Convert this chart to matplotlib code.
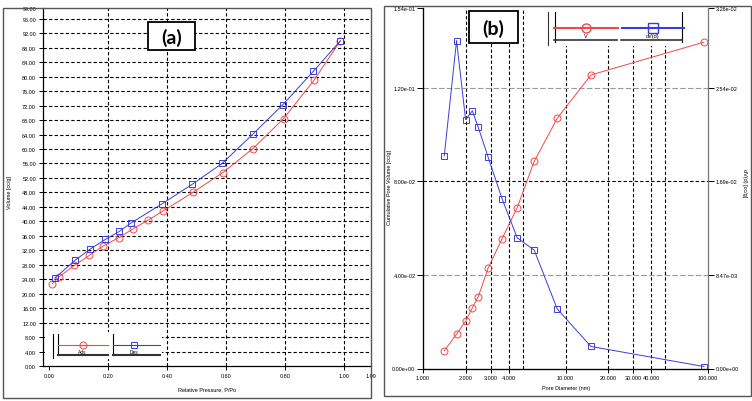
import matplotlib
matplotlib.use("Agg")
import matplotlib.pyplot as plt
from matplotlib.lines import Line2D
from matplotlib.patches import Rectangle

plt.rcParams["font.family"] = ["Liberation Sans", "DejaVu Sans"]

# (a) N2 isotherm, relative pressure vs volume [cc/g]
p_ads = [0.012, 0.035, 0.086, 0.137, 0.184, 0.237, 0.286, 0.337, 0.387,
         0.487, 0.589, 0.690, 0.794, 0.897, 0.986]
v_ads = [22.8, 24.7, 27.8, 30.6, 33.2, 35.5, 38.0, 40.4, 42.9,
         48.0, 53.5, 60.1, 68.4, 79.0, 89.9]
p_des = [0.020, 0.088, 0.139, 0.191, 0.238, 0.277, 0.382,
         0.484, 0.586, 0.690, 0.792, 0.895, 0.986]
v_des = [24.3, 29.2, 32.3, 35.0, 37.2, 39.5, 44.8,
         50.2, 56.0, 64.1, 72.3, 81.5, 89.9]

a_xticks = [0.0, 0.2, 0.4, 0.6, 0.8, 1.0, 1.09]
a_yticks = [0, 4, 8, 12, 16, 20, 24, 28, 32, 36, 40, 44, 48, 52, 56, 60,
            64, 68, 72, 76, 80, 84, 88, 92, 96, 99]

# (b) pore size distribution
d_pore = [1.41, 1.72, 1.99, 2.22, 2.44, 2.86, 3.59, 4.58, 6.03, 8.75, 15.1, 93.5]
v_cum = [0.00756, 0.01469, 0.02024, 0.02592, 0.03061, 0.04278, 0.05547,
         0.06870, 0.08847, 0.1069, 0.1254, 0.1394]
dv_d = [0.01923, 0.02965, 0.02251, 0.02330, 0.02182, 0.01914, 0.01534,
        0.01182, 0.01071, 0.00538, 0.00199, 0.00018]

b_xticks = [1, 2, 3, 4, 10, 20, 30, 40, 100]
b_xgrid = [2, 3, 4, 5, 10, 20, 30, 40, 50]
b_yticks = [0.0, 0.04, 0.08, 0.12, 0.154]
b_ylabels = ["0.00e+00", "4.00e-02", "8.00e-02", "1.20e-01", "1.54e-01"]
b_rticks = [0.0, 0.00847, 0.01694, 0.02541, 0.0326]
b_rlabels = ["0.00e+00", "8.47e-03", "1.69e-02", "2.54e-02", "3.26e-02"]

RED = "#f04848"
BLUE = "#3c3cdc"

W, H = 752, 402
fig = plt.figure(figsize=(W / 100, H / 100), dpi=100)


def fx(x):
    return x / W


def fy(y):
    return 1 - y / H


def fline(xs, ys, **kw):
    fig.add_artist(Line2D([fx(x) for x in xs], [fy(y) for y in ys],
                          transform=fig.transFigure, **kw))


def frect(x0, y0, x1, y1, **kw):
    fig.add_artist(Rectangle((fx(x0), fy(y1)), fx(x1) - fx(x0), fy(y0) - fy(y1),
                             transform=fig.transFigure, **kw))


def style_axes(ax):
    ax.spines["top"].set_visible(False)
    for s in ax.spines.values():
        s.set_linewidth(0.9)
    ax.tick_params(direction="out", length=3, width=0.7, labelsize=4, pad=2)


grid_kw = dict(color="black", lw=0.8, ls=(0, (3, 2)), zorder=0.5)

# ---------- (a)
ax = fig.add_axes([fx(43), fy(367), fx(371) - fx(43), fy(9) - fy(367)])
style_axes(ax)
ax.spines["right"].set_visible(False)
ax.set_xlim(-0.02, 1.09)
ax.set_ylim(0, 99)
ax.set_xticks(a_xticks)
ax.set_xticklabels(["%.2f" % t for t in a_xticks])
ax.set_yticks(a_yticks)
ax.set_yticklabels(["%.2f" % t for t in a_yticks])
for t in a_yticks[1:-1]:
    ax.axhline(t, **grid_kw)
for t in a_xticks[1:-1]:
    ax.axvline(t, **grid_kw)
ax.plot(p_ads, v_ads, color=RED, lw=0.7, marker="o", ms=5, mfc="none", mew=0.7)
ax.plot(p_des, v_des, color=BLUE, lw=0.7, marker="s", ms=5, mfc="none", mew=0.7)

fig.text(fx(10), fy(193), "Volume [cc/g]", rotation=90, fontsize=4,
         ha="center", va="center")
fig.text(fx(207), fy(390), "Relative Pressure, P/Po", fontsize=4,
         ha="center", va="center")

# legend (a)
frect(44.5, 333, 162, 360, facecolor="white", edgecolor="none", zorder=3)
fline([53.3, 53.3], [335, 359], color="black", lw=0.8, zorder=4)
fline([57.7, 57.7], [335, 356], color="black", lw=0.8, zorder=4)
fline([112.7, 112.7], [335, 356], color="black", lw=0.8, zorder=4)
fline([58, 108], [355.5, 355.5], color="#333333", lw=1.5, zorder=4)
fline([113, 159.5], [355.5, 355.5], color="#333333", lw=1.5, zorder=4)
fline([58, 108], [346, 346], color=RED, lw=0.8, zorder=4)
fline([113, 159.5], [346, 346], color=BLUE, lw=0.8, zorder=4)
fline([82.7], [346], color=RED, marker="o", ms=5, mfc="none", mew=0.7, zorder=4)
fline([134.3], [346], color=BLUE, marker="s", ms=5, mfc="none", mew=0.7, zorder=4)
fig.text(fx(82.7), fy(352.5), "Ads", fontsize=3.5, ha="center", va="center", zorder=5)
fig.text(fx(134.3), fy(352.5), "Des", fontsize=3.5, ha="center", va="center", zorder=5)

# ---------- (b)
bx = fig.add_axes([fx(423), fy(369.5), fx(708) - fx(423), fy(9) - fy(369.5)])
style_axes(bx)
bx.spines["right"].set_visible(False)
bx.set_xscale("log")
bx.set_xlim(1, 100)
bx.set_ylim(0, 0.154)
bx.set_xticks(b_xticks)
bx.set_xticklabels(["%.3f" % t for t in b_xticks])
bx.xaxis.set_minor_locator(matplotlib.ticker.NullLocator())
bx.set_yticks(b_yticks)
bx.set_yticklabels(b_ylabels)
bx.tick_params(axis="y", length=4.5, pad=1)
for t in b_xgrid:
    bx.axvline(t, **grid_kw)
bx.axhline(0.08, **grid_kw)
for t in (0.04, 0.12):
    bx.axhline(t, color="#9a9a9a", lw=0.8, ls=(0, (5, 2)), zorder=0.5)

tx = bx.twinx()
tx.spines["top"].set_visible(False)
tx.spines["right"].set_color("#777777")
tx.spines["right"].set_linewidth(0.9)
tx.set_ylim(0, 0.0326)
tx.set_yticks(b_rticks)
tx.set_yticklabels(b_rlabels)
tx.tick_params(direction="out", length=4.5, width=0.7, labelsize=4, pad=1)

bx.plot(d_pore, v_cum, color=RED, lw=0.7, marker="o", ms=5, mfc="none", mew=0.7)
tx.plot(d_pore, dv_d, color=BLUE, lw=0.7, marker="s", ms=5, mfc="none", mew=0.7)

fig.text(fx(390), fy(188), "Cumulative Pore Volume [cc/g]", rotation=90,
         fontsize=4, ha="center", va="center")
fig.text(fx(745), fy(183), "dV(d) [cc/g]", rotation=270, fontsize=4,
         ha="center", va="center")
fig.text(fx(566), fy(389), "Pore Diameter (nm)", fontsize=4,
         ha="center", va="center")

# legend (b)
frect(545, 9.5, 690, 47, facecolor="white", edgecolor="none", zorder=3)
fline([547.5, 547.5], [13, 46], color="#333333", lw=0.8, zorder=4)
fline([555, 555], [13, 43], color="black", lw=0.8, zorder=4)
fline([682, 682], [13, 43], color="black", lw=0.8, zorder=4)
fline([554, 617], [40.7, 40.7], color="#333333", lw=1.2, zorder=4)
fline([621, 682], [40.7, 40.7], color="#333333", lw=1.2, zorder=4)
fline([554, 618], [29, 29], color=RED, lw=1.5, zorder=4)
fline([622, 684], [29, 29], color=BLUE, lw=1.5, zorder=4)
fline([586], [29], color=RED, marker="o", ms=6.5, mfc="none", mew=1.0, zorder=4)
fline([653], [29], color=BLUE, marker="s", ms=6.5, mfc="none", mew=1.0, zorder=4)
fig.text(fx(586), fy(36.5), "V", fontsize=4, ha="center", va="center", zorder=5)
fig.text(fx(653), fy(36.5), "dV(d)", fontsize=4, ha="center", va="center", zorder=5)

# panel label boxes
frect(148, 23, 195, 51, facecolor="white", edgecolor="black", lw=1.3, zorder=4)
fig.text(fx(171.5), fy(37.5), "(a)", fontsize=14, fontweight="bold",
         family=["Lato", "DejaVu Sans"], ha="center", va="center", zorder=5)
frect(469, 12, 518, 44, facecolor="white", edgecolor="black", lw=1.3, zorder=4)
fig.text(fx(493.5), fy(28.5), "(b)", fontsize=14, fontweight="bold",
         family=["Lato", "DejaVu Sans"], ha="center", va="center", zorder=5)

# panel frames
frect(3, 8.5, 371, 399, facecolor="none", edgecolor="#555555", lw=1.0, zorder=6)
frect(384, 7, 751, 397, facecolor="none", edgecolor="#555555", lw=1.0, zorder=6)

fig.savefig("out.png", dpi=100, facecolor="white")
